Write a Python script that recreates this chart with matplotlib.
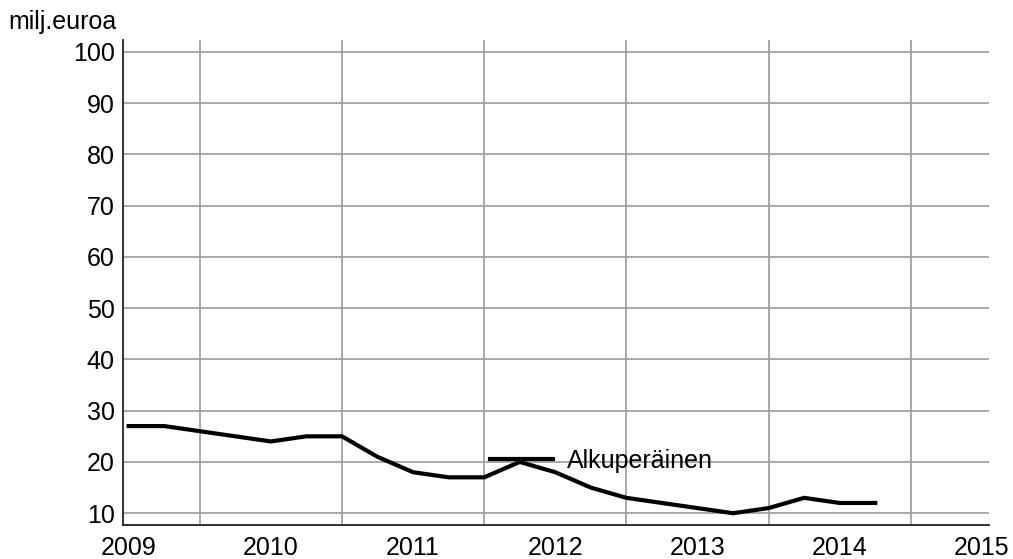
import matplotlib.pyplot as plt
import numpy as np

plt.rcParams['font.family'] = ['Liberation Sans', 'DejaVu Sans']

# quarterly values, 2009Q1 .. 2014Q2
values = [27, 27, 26, 25, 24, 25, 25, 21, 18, 17, 17, 20,
          18, 15, 13, 12, 11, 10, 11, 13, 12, 12]
start_year = 2009
years = [2009, 2010, 2011, 2012, 2013, 2014, 2015]
yticks = [10, 20, 30, 40, 50, 60, 70, 80, 90, 100]
series_name = 'Alkuperäinen'
unit_label = 'milj.euroa'

x = start_year + np.arange(len(values)) * 0.25

fig = plt.figure(figsize=(10.13, 5.59), dpi=100)
ax = fig.add_axes([0.1214, 0.0608, 0.8549, 0.8676])

grid_color = '#9a9a9a'
for v in yticks:
    ax.axhline(v, color=grid_color, lw=1.2, zorder=1)
for yr in years[:-1]:
    ax.axvline(yr + 0.5, color=grid_color, lw=1.2, zorder=1)

line, = ax.plot(x, values, color='black', lw=3, solid_joinstyle='miter',
                label=series_name, zorder=3)

ax.set_xlim(2008.96, 2015.05)
ax.set_ylim(7.7, 102.3)
ax.set_xticks(years)
ax.set_yticks(yticks)
ax.tick_params(axis='both', length=0, labelsize=18)
ax.tick_params(axis='y', pad=6)
ax.tick_params(axis='x', pad=8)

for side in ('top', 'right'):
    ax.spines[side].set_visible(False)
for side in ('left', 'bottom'):
    ax.spines[side].set_color('#222222')
    ax.spines[side].set_linewidth(1.3)

fig.text(0.008, 0.96, unit_label, fontsize=18, ha='left', va='center')

ax.legend(handles=[line], loc='center left', frameon=False,
          bbox_to_anchor=(2011.54, 20.2), bbox_transform=ax.transData,
          borderpad=0, borderaxespad=0, handlelength=2.52,
          handletextpad=0.56, fontsize=18)

fig.savefig('out.png', dpi=100)
